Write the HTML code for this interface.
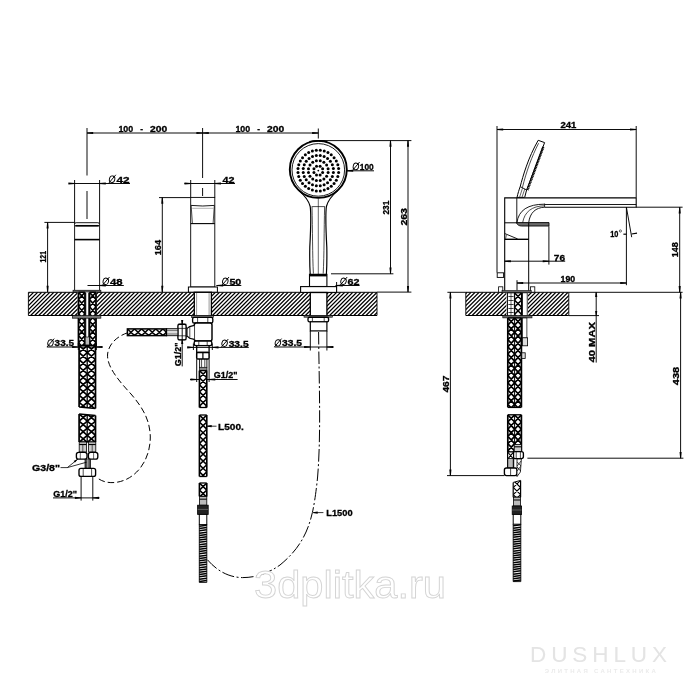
<!DOCTYPE html>
<html><head><meta charset="utf-8"><title>drawing</title>
<style>
html,body{margin:0;padding:0;background:#fff;}
body{width:700px;height:700px;overflow:hidden;font-family:"Liberation Sans",sans-serif;}
svg{display:block;font-family:"Liberation Sans",sans-serif;will-change:transform;filter:grayscale(1);}
</style></head><body>
<svg width="700" height="700" viewBox="0 0 700 700">
<rect x="0" y="0" width="700" height="700" fill="#fff"/>
<defs>
<pattern id="hat" width="10" height="2.72" patternUnits="userSpaceOnUse" patternTransform="rotate(-45)">
<rect x="0" y="0" width="10" height="1.05" fill="#000"/>
</pattern>
</defs>

<clipPath id="c1"><rect x="28.4" y="292.3" width="348.6" height="23.19999999999999"/></clipPath>
<g clip-path="url(#c1)">
<path d="M2.36,315.50L25.56,292.30M6.40,315.50L29.60,292.30M10.44,315.50L33.64,292.30M14.48,315.50L37.68,292.30M18.52,315.50L41.72,292.30M22.56,315.50L45.76,292.30M26.60,315.50L49.80,292.30M30.64,315.50L53.84,292.30M34.68,315.50L57.88,292.30M38.72,315.50L61.92,292.30M42.76,315.50L65.96,292.30M46.80,315.50L70.00,292.30M50.84,315.50L74.04,292.30M54.88,315.50L78.08,292.30M58.92,315.50L82.12,292.30M62.96,315.50L86.16,292.30M67.00,315.50L90.20,292.30M71.04,315.50L94.24,292.30M75.08,315.50L98.28,292.30M79.12,315.50L102.32,292.30M83.16,315.50L106.36,292.30M87.20,315.50L110.40,292.30M91.24,315.50L114.44,292.30M95.28,315.50L118.48,292.30M99.32,315.50L122.52,292.30M103.36,315.50L126.56,292.30M107.40,315.50L130.60,292.30M111.44,315.50L134.64,292.30M115.48,315.50L138.68,292.30M119.52,315.50L142.72,292.30M123.56,315.50L146.76,292.30M127.60,315.50L150.80,292.30M131.64,315.50L154.84,292.30M135.68,315.50L158.88,292.30M139.72,315.50L162.92,292.30M143.76,315.50L166.96,292.30M147.80,315.50L171.00,292.30M151.84,315.50L175.04,292.30M155.88,315.50L179.08,292.30M159.92,315.50L183.12,292.30M163.96,315.50L187.16,292.30M168.00,315.50L191.20,292.30M172.04,315.50L195.24,292.30M176.08,315.50L199.28,292.30M180.12,315.50L203.32,292.30M184.16,315.50L207.36,292.30M188.20,315.50L211.40,292.30M192.24,315.50L215.44,292.30M196.28,315.50L219.48,292.30M200.32,315.50L223.52,292.30M204.36,315.50L227.56,292.30M208.40,315.50L231.60,292.30M212.44,315.50L235.64,292.30M216.48,315.50L239.68,292.30M220.52,315.50L243.72,292.30M224.56,315.50L247.76,292.30M228.60,315.50L251.80,292.30M232.64,315.50L255.84,292.30M236.68,315.50L259.88,292.30M240.72,315.50L263.92,292.30M244.76,315.50L267.96,292.30M248.80,315.50L272.00,292.30M252.84,315.50L276.04,292.30M256.88,315.50L280.08,292.30M260.92,315.50L284.12,292.30M264.96,315.50L288.16,292.30M269.00,315.50L292.20,292.30M273.04,315.50L296.24,292.30M277.08,315.50L300.28,292.30M281.12,315.50L304.32,292.30M285.16,315.50L308.36,292.30M289.20,315.50L312.40,292.30M293.24,315.50L316.44,292.30M297.28,315.50L320.48,292.30M301.32,315.50L324.52,292.30M305.36,315.50L328.56,292.30M309.40,315.50L332.60,292.30M313.44,315.50L336.64,292.30M317.48,315.50L340.68,292.30M321.52,315.50L344.72,292.30M325.56,315.50L348.76,292.30M329.60,315.50L352.80,292.30M333.64,315.50L356.84,292.30M337.68,315.50L360.88,292.30M341.72,315.50L364.92,292.30M345.76,315.50L368.96,292.30M349.80,315.50L373.00,292.30M353.84,315.50L377.04,292.30M357.88,315.50L381.08,292.30M361.92,315.50L385.12,292.30M365.96,315.50L389.16,292.30M370.00,315.50L393.20,292.30M374.04,315.50L397.24,292.30M378.08,315.50L401.28,292.30" fill="none" stroke="#000" stroke-width="1.22" />
</g>
<line x1="28.40" y1="292.30" x2="377.00" y2="292.30" stroke="#000" stroke-width="1.0" />
<line x1="28.40" y1="315.50" x2="377.00" y2="315.50" stroke="#000" stroke-width="1.2" />
<line x1="28.40" y1="292.30" x2="28.40" y2="315.50" stroke="#000" stroke-width="0.9" />
<line x1="377.00" y1="292.30" x2="377.00" y2="315.50" stroke="#000" stroke-width="0.9" />
<clipPath id="c2"><rect x="465.8" y="292.3" width="102.99999999999994" height="23.19999999999999"/></clipPath>
<g clip-path="url(#c2)">
<path d="M439.76,315.50L462.96,292.30M443.80,315.50L467.00,292.30M447.84,315.50L471.04,292.30M451.88,315.50L475.08,292.30M455.92,315.50L479.12,292.30M459.96,315.50L483.16,292.30M464.00,315.50L487.20,292.30M468.04,315.50L491.24,292.30M472.08,315.50L495.28,292.30M476.12,315.50L499.32,292.30M480.16,315.50L503.36,292.30M484.20,315.50L507.40,292.30M488.24,315.50L511.44,292.30M492.28,315.50L515.48,292.30M496.32,315.50L519.52,292.30M500.36,315.50L523.56,292.30M504.40,315.50L527.60,292.30M508.44,315.50L531.64,292.30M512.48,315.50L535.68,292.30M516.52,315.50L539.72,292.30M520.56,315.50L543.76,292.30M524.60,315.50L547.80,292.30M528.64,315.50L551.84,292.30M532.68,315.50L555.88,292.30M536.72,315.50L559.92,292.30M540.76,315.50L563.96,292.30M544.80,315.50L568.00,292.30M548.84,315.50L572.04,292.30M552.88,315.50L576.08,292.30M556.92,315.50L580.12,292.30M560.96,315.50L584.16,292.30M565.00,315.50L588.20,292.30M569.04,315.50L592.24,292.30" fill="none" stroke="#000" stroke-width="1.22" />
</g>
<line x1="465.80" y1="292.30" x2="568.80" y2="292.30" stroke="#000" stroke-width="1.0" />
<line x1="465.80" y1="315.50" x2="568.80" y2="315.50" stroke="#000" stroke-width="1.2" />
<line x1="465.80" y1="292.30" x2="465.80" y2="315.50" stroke="#000" stroke-width="0.9" />
<line x1="568.80" y1="292.30" x2="568.80" y2="315.50" stroke="#000" stroke-width="0.9" />
<line x1="87.00" y1="133.00" x2="318.30" y2="133.00" stroke="#000" stroke-width="0.95" />
<polygon points="87.00,132.55 87.00,133.45 93.20,134.05 93.20,131.95" fill="#000"/>
<polygon points="202.60,132.55 202.60,133.45 196.40,134.05 196.40,131.95" fill="#000"/>
<polygon points="202.60,132.55 202.60,133.45 208.80,134.05 208.80,131.95" fill="#000"/>
<polygon points="318.30,132.55 318.30,133.45 312.10,134.05 312.10,131.95" fill="#000"/>
<line x1="87.00" y1="128.00" x2="87.00" y2="175.50" stroke="#000" stroke-width="0.95" />
<line x1="87.00" y1="191.00" x2="87.00" y2="219.00" stroke="#000" stroke-width="0.95" />
<line x1="202.60" y1="128.00" x2="202.60" y2="178.00" stroke="#000" stroke-width="0.95" />
<line x1="202.60" y1="188.00" x2="202.60" y2="196.00" stroke="#000" stroke-width="0.95" />
<line x1="318.30" y1="128.50" x2="318.30" y2="138.50" stroke="#000" stroke-width="0.95" />
<text x="118.40" y="131.70" font-size="9.2" font-weight="bold" fill="#000" stroke="#000" stroke-width="0.3" textLength="14.80" lengthAdjust="spacingAndGlyphs">100</text>
<text x="140.30" y="131.70" font-size="9.2" font-weight="bold" fill="#000" stroke="#000" stroke-width="0.3" textLength="2.80" lengthAdjust="spacingAndGlyphs">-</text>
<text x="150.10" y="131.70" font-size="9.2" font-weight="bold" fill="#000" stroke="#000" stroke-width="0.3" textLength="17.20" lengthAdjust="spacingAndGlyphs">200</text>
<text x="235.40" y="131.70" font-size="9.2" font-weight="bold" fill="#000" stroke="#000" stroke-width="0.3" textLength="14.80" lengthAdjust="spacingAndGlyphs">100</text>
<text x="257.30" y="131.70" font-size="9.2" font-weight="bold" fill="#000" stroke="#000" stroke-width="0.3" textLength="2.80" lengthAdjust="spacingAndGlyphs">-</text>
<text x="267.10" y="131.70" font-size="9.2" font-weight="bold" fill="#000" stroke="#000" stroke-width="0.3" textLength="17.20" lengthAdjust="spacingAndGlyphs">200</text>
<line x1="74.60" y1="180.00" x2="74.60" y2="223.00" stroke="#000" stroke-width="0.95" />
<line x1="99.60" y1="180.00" x2="99.60" y2="223.00" stroke="#000" stroke-width="0.95" />
<line x1="68.80" y1="183.50" x2="130.00" y2="183.50" stroke="#000" stroke-width="0.95" />
<polygon points="74.60,183.05 74.60,183.95 68.40,184.55 68.40,182.45" fill="#000"/>
<polygon points="99.60,183.05 99.60,183.95 105.80,184.55 105.80,182.45" fill="#000"/>
<ellipse cx="112.10" cy="179.20" rx="2.70" ry="3.30" fill="none" stroke="#000" stroke-width="0.95" transform="rotate(14 112.10 179.20)"/>
<line x1="108.50" y1="183.50" x2="115.80" y2="174.80" stroke="#000" stroke-width="0.95" />
<text x="116.40" y="182.60" font-size="9.2" font-weight="bold" fill="#000" stroke="#000" stroke-width="0.3" textLength="13.10" lengthAdjust="spacingAndGlyphs">42</text>
<line x1="74.60" y1="223.00" x2="74.60" y2="290.30" stroke="#000" stroke-width="0.9" />
<line x1="99.60" y1="223.00" x2="99.60" y2="290.30" stroke="#000" stroke-width="0.9" />
<rect x="74.5" y="222.7" width="25.0" height="3.4" rx="1.6" fill="#fff" stroke="#000" stroke-width="0.9"/>
<line x1="75.40" y1="225.60" x2="98.80" y2="225.60" stroke="#000" stroke-width="1.3" />
<line x1="74.60" y1="239.60" x2="99.60" y2="239.60" stroke="#000" stroke-width="1.6" />
<rect x="73.00" y="290.20" width="27.90" height="2.10" fill="#555" stroke="#000" stroke-width="0.6" />
<line x1="44.40" y1="222.40" x2="74.60" y2="222.40" stroke="#000" stroke-width="0.95" />
<line x1="47.60" y1="222.40" x2="47.60" y2="292.00" stroke="#000" stroke-width="0.95" />
<polygon points="47.15,222.40 48.05,222.40 48.65,228.60 46.55,228.60" fill="#000"/>
<polygon points="47.15,292.00 48.05,292.00 48.65,285.80 46.55,285.80" fill="#000"/>
<text transform="translate(46.40,262.60) rotate(-90)" x="0" y="0" font-size="9.2" font-weight="bold" stroke="#000" stroke-width="0.3" textLength="11.60" lengthAdjust="spacingAndGlyphs">121</text>
<line x1="87.50" y1="285.50" x2="123.80" y2="285.50" stroke="#000" stroke-width="0.95" />
<polygon points="99.60,285.05 99.60,285.95 105.80,286.55 105.80,284.45" fill="#000"/>
<ellipse cx="105.80" cy="281.35" rx="2.70" ry="3.25" fill="none" stroke="#000" stroke-width="0.95" transform="rotate(14 105.80 281.35)"/>
<line x1="102.20" y1="285.60" x2="109.50" y2="277.00" stroke="#000" stroke-width="0.95" />
<text x="110.00" y="284.70" font-size="9.2" font-weight="bold" fill="#000" stroke="#000" stroke-width="0.3" textLength="12.60" lengthAdjust="spacingAndGlyphs">48</text>
<rect x="77.6" y="292.3" width="19.4" height="24" fill="#fff"/>
<clipPath id="c3"><polygon points="78.50,292.30 85.00,292.30 85.00,346.00 78.50,346.00"/></clipPath>
<g clip-path="url(#c3)">
<rect x="78.50" y="285.10" width="6.50" height="68.10" fill="#fff"/>
<path d="M78.50,285.10L85.00,292.30M85.00,285.10L78.50,292.30M78.50,292.30L85.00,299.50M85.00,292.30L78.50,299.50M78.50,299.50L85.00,306.70M85.00,299.50L78.50,306.70M78.50,306.70L85.00,313.90M85.00,306.70L78.50,313.90M78.50,313.90L85.00,321.10M85.00,313.90L78.50,321.10M78.50,321.10L85.00,328.30M85.00,321.10L78.50,328.30M78.50,328.30L85.00,335.50M85.00,328.30L78.50,335.50M78.50,335.50L85.00,342.70M85.00,335.50L78.50,342.70M78.50,342.70L85.00,349.90M85.00,342.70L78.50,349.90M78.50,349.90L85.00,357.10M85.00,349.90L78.50,357.10M78.50,357.10L85.00,364.30M85.00,357.10L78.50,364.30" fill="none" stroke="#000" stroke-width="1.6" />
</g>
<line x1="78.50" y1="292.30" x2="78.50" y2="346.00" stroke="#000" stroke-width="1.8" />
<line x1="85.00" y1="292.30" x2="85.00" y2="346.00" stroke="#000" stroke-width="1.8" />
<line x1="78.50" y1="292.30" x2="85.00" y2="292.30" stroke="#000" stroke-width="1.4400000000000002" />
<line x1="78.50" y1="346.00" x2="85.00" y2="346.00" stroke="#000" stroke-width="1.4400000000000002" />
<clipPath id="c4"><polygon points="89.50,292.30 96.00,292.30 96.00,346.00 89.50,346.00"/></clipPath>
<g clip-path="url(#c4)">
<rect x="89.50" y="285.10" width="6.50" height="68.10" fill="#fff"/>
<path d="M89.50,285.10L96.00,292.30M96.00,285.10L89.50,292.30M89.50,292.30L96.00,299.50M96.00,292.30L89.50,299.50M89.50,299.50L96.00,306.70M96.00,299.50L89.50,306.70M89.50,306.70L96.00,313.90M96.00,306.70L89.50,313.90M89.50,313.90L96.00,321.10M96.00,313.90L89.50,321.10M89.50,321.10L96.00,328.30M96.00,321.10L89.50,328.30M89.50,328.30L96.00,335.50M96.00,328.30L89.50,335.50M89.50,335.50L96.00,342.70M96.00,335.50L89.50,342.70M89.50,342.70L96.00,349.90M96.00,342.70L89.50,349.90M89.50,349.90L96.00,357.10M96.00,349.90L89.50,357.10M89.50,357.10L96.00,364.30M96.00,357.10L89.50,364.30" fill="none" stroke="#000" stroke-width="1.6" />
</g>
<line x1="89.50" y1="292.30" x2="89.50" y2="346.00" stroke="#000" stroke-width="1.8" />
<line x1="96.00" y1="292.30" x2="96.00" y2="346.00" stroke="#000" stroke-width="1.8" />
<line x1="89.50" y1="292.30" x2="96.00" y2="292.30" stroke="#000" stroke-width="1.4400000000000002" />
<line x1="89.50" y1="346.00" x2="96.00" y2="346.00" stroke="#000" stroke-width="1.4400000000000002" />
<line x1="85.90" y1="293.00" x2="85.90" y2="337.00" stroke="#000" stroke-width="0.6" />
<line x1="88.60" y1="293.00" x2="88.60" y2="337.00" stroke="#000" stroke-width="0.6" />
<rect x="85.20" y="337.00" width="4.10" height="8.00" fill="#bbb" stroke="#000" stroke-width="0.6" />
<rect x="72.30" y="315.50" width="28.60" height="2.70" fill="#777" stroke="#000" stroke-width="0.6" />
<clipPath id="c5"><polygon points="79.10,345.50 95.50,345.50 95.50,408.50 79.10,407.00"/></clipPath>
<g clip-path="url(#c5)">
<rect x="79.10" y="338.40" width="16.40" height="77.20" fill="#fff"/>
<path d="M79.10,338.40L87.30,345.50M87.30,338.40L79.10,345.50M79.10,345.50L87.30,352.60M87.30,345.50L79.10,352.60M79.10,352.60L87.30,359.70M87.30,352.60L79.10,359.70M79.10,359.70L87.30,366.80M87.30,359.70L79.10,366.80M79.10,366.80L87.30,373.90M87.30,366.80L79.10,373.90M79.10,373.90L87.30,381.00M87.30,373.90L79.10,381.00M79.10,381.00L87.30,388.10M87.30,381.00L79.10,388.10M79.10,388.10L87.30,395.20M87.30,388.10L79.10,395.20M79.10,395.20L87.30,402.30M87.30,395.20L79.10,402.30M79.10,402.30L87.30,409.40M87.30,402.30L79.10,409.40M79.10,409.40L87.30,416.50M87.30,409.40L79.10,416.50M79.10,416.50L87.30,423.60M87.30,416.50L79.10,423.60M87.30,338.40L95.50,345.50M95.50,338.40L87.30,345.50M87.30,345.50L95.50,352.60M95.50,345.50L87.30,352.60M87.30,352.60L95.50,359.70M95.50,352.60L87.30,359.70M87.30,359.70L95.50,366.80M95.50,359.70L87.30,366.80M87.30,366.80L95.50,373.90M95.50,366.80L87.30,373.90M87.30,373.90L95.50,381.00M95.50,373.90L87.30,381.00M87.30,381.00L95.50,388.10M95.50,381.00L87.30,388.10M87.30,388.10L95.50,395.20M95.50,388.10L87.30,395.20M87.30,395.20L95.50,402.30M95.50,395.20L87.30,402.30M87.30,402.30L95.50,409.40M95.50,402.30L87.30,409.40M87.30,409.40L95.50,416.50M95.50,409.40L87.30,416.50M87.30,416.50L95.50,423.60M95.50,416.50L87.30,423.60" fill="none" stroke="#000" stroke-width="1.7" />
</g>
<line x1="79.10" y1="345.50" x2="79.10" y2="407.00" stroke="#000" stroke-width="1.7" />
<line x1="95.50" y1="345.50" x2="95.50" y2="408.50" stroke="#000" stroke-width="1.7" />
<line x1="79.10" y1="345.50" x2="95.50" y2="345.50" stroke="#000" stroke-width="1.36" />
<line x1="79.10" y1="407.00" x2="95.50" y2="408.50" stroke="#000" stroke-width="1.36" />
<line x1="87.20" y1="346.00" x2="87.20" y2="407.60" stroke="#000" stroke-width="1.3" />
<clipPath id="c6"><polygon points="79.10,414.00 95.50,415.50 95.50,442.00 79.10,442.00"/></clipPath>
<g clip-path="url(#c6)">
<rect x="79.10" y="406.90" width="16.40" height="42.20" fill="#fff"/>
<path d="M79.10,406.90L87.30,414.00M87.30,406.90L79.10,414.00M79.10,414.00L87.30,421.10M87.30,414.00L79.10,421.10M79.10,421.10L87.30,428.20M87.30,421.10L79.10,428.20M79.10,428.20L87.30,435.30M87.30,428.20L79.10,435.30M79.10,435.30L87.30,442.40M87.30,435.30L79.10,442.40M79.10,442.40L87.30,449.50M87.30,442.40L79.10,449.50M79.10,449.50L87.30,456.60M87.30,449.50L79.10,456.60M87.30,406.90L95.50,414.00M95.50,406.90L87.30,414.00M87.30,414.00L95.50,421.10M95.50,414.00L87.30,421.10M87.30,421.10L95.50,428.20M95.50,421.10L87.30,428.20M87.30,428.20L95.50,435.30M95.50,428.20L87.30,435.30M87.30,435.30L95.50,442.40M95.50,435.30L87.30,442.40M87.30,442.40L95.50,449.50M95.50,442.40L87.30,449.50M87.30,449.50L95.50,456.60M95.50,449.50L87.30,456.60" fill="none" stroke="#000" stroke-width="1.7" />
</g>
<line x1="79.10" y1="414.00" x2="79.10" y2="442.00" stroke="#000" stroke-width="1.7" />
<line x1="95.50" y1="415.50" x2="95.50" y2="442.00" stroke="#000" stroke-width="1.7" />
<line x1="79.10" y1="414.00" x2="95.50" y2="415.50" stroke="#000" stroke-width="1.36" />
<line x1="79.10" y1="442.00" x2="95.50" y2="442.00" stroke="#000" stroke-width="1.36" />
<line x1="87.20" y1="415.00" x2="87.20" y2="442.00" stroke="#000" stroke-width="1.3" />
<line x1="47.00" y1="347.00" x2="102.50" y2="347.00" stroke="#000" stroke-width="0.95" />
<polygon points="78.30,346.55 78.30,347.45 72.10,348.05 72.10,345.95" fill="#000"/>
<polygon points="96.30,346.55 96.30,347.45 102.50,348.05 102.50,345.95" fill="#000"/>
<line x1="78.30" y1="343.00" x2="78.30" y2="350.00" stroke="#000" stroke-width="0.95" />
<line x1="96.30" y1="343.00" x2="96.30" y2="350.00" stroke="#000" stroke-width="0.95" />
<ellipse cx="50.50" cy="342.90" rx="2.70" ry="3.20" fill="none" stroke="#000" stroke-width="0.95" transform="rotate(14 50.50 342.90)"/>
<line x1="46.90" y1="347.10" x2="54.20" y2="338.60" stroke="#000" stroke-width="0.95" />
<text x="54.60" y="346.20" font-size="9.2" font-weight="bold" fill="#000" stroke="#000" stroke-width="0.3" textLength="19.40" lengthAdjust="spacingAndGlyphs">33.5</text>
<rect x="79.20" y="442.00" width="7.20" height="10.00" fill="#ccc" stroke="#000" stroke-width="0.8" />
<rect x="88.60" y="442.00" width="7.20" height="10.00" fill="#ccc" stroke="#000" stroke-width="0.8" />
<line x1="79.20" y1="444.50" x2="86.40" y2="444.50" stroke="#000" stroke-width="1.2" />
<line x1="88.60" y1="444.50" x2="95.80" y2="444.50" stroke="#000" stroke-width="1.2" />
<line x1="82.80" y1="445.00" x2="82.80" y2="452.00" stroke="#000" stroke-width="0.6" />
<line x1="92.20" y1="445.00" x2="92.20" y2="452.00" stroke="#000" stroke-width="0.6" />
<rect x="76.4" y="452.4" width="10.6" height="6.8" rx="2.2" fill="#fff" stroke="#000" stroke-width="1.35"/>
<rect x="88.4" y="452.4" width="9.4" height="6.8" rx="2.2" fill="#fff" stroke="#000" stroke-width="1.35"/>
<line x1="80.30" y1="452.50" x2="80.30" y2="459.00" stroke="#000" stroke-width="0.6" />
<line x1="93.60" y1="452.50" x2="93.60" y2="459.00" stroke="#000" stroke-width="0.6" />
<rect x="85.00" y="459.20" width="5.60" height="9.00" fill="#555" stroke="#000" stroke-width="0.7" />
<line x1="87.80" y1="459.20" x2="87.80" y2="468.20" stroke="#fff" stroke-width="0.6" />
<rect x="79.0" y="468.4" width="16.6" height="8" rx="2" fill="#fff" stroke="#000" stroke-width="1.35"/>
<line x1="83.20" y1="468.60" x2="83.20" y2="476.20" stroke="#000" stroke-width="0.7" />
<line x1="91.60" y1="468.60" x2="91.60" y2="476.20" stroke="#000" stroke-width="0.7" />
<line x1="81.10" y1="476.60" x2="81.10" y2="500.60" stroke="#000" stroke-width="0.95" />
<line x1="92.80" y1="476.60" x2="92.80" y2="500.60" stroke="#000" stroke-width="0.95" />
<line x1="53.00" y1="497.90" x2="99.60" y2="497.90" stroke="#000" stroke-width="0.95" />
<polygon points="81.10,497.45 81.10,498.35 74.90,498.95 74.90,496.85" fill="#000"/>
<polygon points="92.80,497.45 92.80,498.35 99.00,498.95 99.00,496.85" fill="#000"/>
<text x="53.20" y="496.80" font-size="9.2" font-weight="bold" fill="#000" stroke="#000" stroke-width="0.3" textLength="23.80" lengthAdjust="spacingAndGlyphs">G1/2"</text>
<text x="32.00" y="470.80" font-size="9.2" font-weight="bold" fill="#000" stroke="#000" stroke-width="0.3" textLength="28.00" lengthAdjust="spacingAndGlyphs">G3/8"</text>
<path d="M60.5,467.6 L67.3,467.6 L77.8,459.2 M67.3,467.6 L86.6,462.2" fill="none" stroke="#000" stroke-width="0.8" />
<polygon points="77.80,458.75 77.80,459.65 77.70,459.30 77.70,459.10" fill="#000"/>
<polygon points="78.2,458.8 73.6,461.0 75.0,462.6" fill="#000"/>
<path d="M127.5,332.8 C118,336 109,343 107.6,354 C106.5,366 118,380 131,394 C143,408 150,420 150.3,437 C150.3,456 141,472 127,479 C117,484 105,484 97.5,478" fill="none" stroke="#000" stroke-width="1.0" stroke-dasharray="6.5,3"/>
<line x1="190.70" y1="180.00" x2="190.70" y2="197.40" stroke="#000" stroke-width="0.95" />
<line x1="214.80" y1="180.00" x2="214.80" y2="197.40" stroke="#000" stroke-width="0.95" />
<line x1="184.40" y1="183.50" x2="235.00" y2="183.50" stroke="#000" stroke-width="0.95" />
<polygon points="190.70,183.05 190.70,183.95 184.50,184.55 184.50,182.45" fill="#000"/>
<polygon points="214.80,183.05 214.80,183.95 221.00,184.55 221.00,182.45" fill="#000"/>
<text x="222.50" y="182.60" font-size="9.2" font-weight="bold" fill="#000" stroke="#000" stroke-width="0.3" textLength="12.00" lengthAdjust="spacingAndGlyphs">42</text>
<rect x="190.70" y="197.40" width="24.10" height="89.60" fill="none" stroke="#000" stroke-width="0.9" />
<path d="M190.9,205.4 Q202.7,206.6 214.6,205.4" fill="none" stroke="#000" stroke-width="0.9" />
<line x1="190.70" y1="223.60" x2="214.80" y2="223.60" stroke="#000" stroke-width="1.1" />
<path d="M191.2,206 L192.4,223.4 M214.3,206 L213.1,223.4" fill="none" stroke="#000" stroke-width="0.7" />
<path d="M192.2,208.3 L213.3,208.3" fill="none" stroke="#666" stroke-width="0.5" />
<rect x="188.40" y="287.00" width="29.00" height="5.20" fill="#fff" stroke="#000" stroke-width="1.0" />
<line x1="159.00" y1="197.60" x2="190.70" y2="197.60" stroke="#000" stroke-width="0.95" />
<line x1="162.30" y1="197.60" x2="162.30" y2="292.00" stroke="#000" stroke-width="0.95" />
<polygon points="161.85,197.60 162.75,197.60 163.35,203.80 161.25,203.80" fill="#000"/>
<polygon points="161.85,292.00 162.75,292.00 163.35,285.80 161.25,285.80" fill="#000"/>
<text transform="translate(161.20,255.20) rotate(-90)" x="0" y="0" font-size="9.2" font-weight="bold" stroke="#000" stroke-width="0.3" textLength="15.20" lengthAdjust="spacingAndGlyphs">164</text>
<line x1="216.30" y1="285.50" x2="241.30" y2="285.50" stroke="#000" stroke-width="0.95" />
<polygon points="217.00,285.05 217.00,285.95 223.20,286.55 223.20,284.45" fill="#000"/>
<ellipse cx="225.30" cy="281.35" rx="2.70" ry="3.25" fill="none" stroke="#000" stroke-width="0.95" transform="rotate(14 225.30 281.35)"/>
<line x1="221.70" y1="285.60" x2="229.00" y2="277.00" stroke="#000" stroke-width="0.95" />
<text x="229.40" y="284.70" font-size="9.2" font-weight="bold" fill="#000" stroke="#000" stroke-width="0.3" textLength="11.90" lengthAdjust="spacingAndGlyphs">50</text>
<rect x="194.30" y="292.30" width="17.10" height="23.70" fill="#fff" stroke="#000" stroke-width="1.3" />
<line x1="196.60" y1="293.00" x2="196.60" y2="316.00" stroke="#555" stroke-width="0.6" />
<line x1="209.10" y1="293.00" x2="209.10" y2="316.00" stroke="#555" stroke-width="0.6" />
<rect x="191.60" y="315.60" width="21.80" height="2.00" fill="#777" stroke="#000" stroke-width="0.6" />
<rect x="192.6" y="317.4" width="20.2" height="5.6" rx="1.6" fill="#fff" stroke="#000" stroke-width="1.35"/>
<line x1="197.60" y1="317.60" x2="197.60" y2="323.00" stroke="#000" stroke-width="0.7" />
<line x1="207.80" y1="317.60" x2="207.80" y2="323.00" stroke="#000" stroke-width="0.7" />
<rect x="194.3" y="323" width="17.7" height="18" rx="2" fill="#fff" stroke="#000" stroke-width="1.45"/>
<rect x="194.2" y="341" width="17.6" height="4.6" rx="1.5" fill="#fff" stroke="#000" stroke-width="1.35"/>
<line x1="198.80" y1="341.20" x2="198.80" y2="345.40" stroke="#000" stroke-width="0.7" />
<line x1="207.20" y1="341.20" x2="207.20" y2="345.40" stroke="#000" stroke-width="0.7" />
<rect x="196.70" y="345.60" width="12.40" height="6.80" fill="#fff" stroke="#000" stroke-width="1.3" />
<rect x="196.7" y="352.4" width="12.4" height="6.6" rx="1" fill="#fff" stroke="#000" stroke-width="1.5"/>
<line x1="202.90" y1="352.60" x2="202.90" y2="359.00" stroke="#000" stroke-width="1.2" />
<line x1="199.60" y1="359.00" x2="199.60" y2="367.40" stroke="#000" stroke-width="0.9" />
<line x1="206.90" y1="359.00" x2="206.90" y2="367.40" stroke="#000" stroke-width="0.9" />
<line x1="201.60" y1="359.00" x2="201.60" y2="367.40" stroke="#000" stroke-width="0.7" />
<line x1="204.80" y1="359.00" x2="204.80" y2="367.40" stroke="#000" stroke-width="0.7" />
<rect x="199.40" y="367.30" width="7.60" height="3.30" fill="#888" stroke="#000" stroke-width="0.7" />
<path d="M194.3,325.4 L189.6,326.6 L187.0,328.6 L187.0,336.0 L189.6,338.2 L194.3,339.4" fill="#fff" stroke="#000" stroke-width="1.1" />
<line x1="189.80" y1="326.80" x2="189.80" y2="338.00" stroke="#000" stroke-width="0.7" />
<rect x="177.9" y="324.2" width="8.2" height="15.6" rx="1.6" fill="#fff" stroke="#000" stroke-width="1.35"/>
<line x1="178.00" y1="328.40" x2="186.00" y2="328.40" stroke="#000" stroke-width="0.7" />
<line x1="178.00" y1="335.80" x2="186.00" y2="335.80" stroke="#000" stroke-width="0.7" />
<line x1="186.10" y1="327.60" x2="187.00" y2="327.60" stroke="#000" stroke-width="0.8" />
<line x1="186.10" y1="336.60" x2="187.00" y2="336.60" stroke="#000" stroke-width="0.8" />
<rect x="166.40" y="328.70" width="11.50" height="7.00" fill="#ddd" stroke="#000" stroke-width="0.9" />
<line x1="166.40" y1="330.40" x2="177.90" y2="330.40" stroke="#000" stroke-width="0.5" />
<line x1="166.40" y1="334.00" x2="177.90" y2="334.00" stroke="#000" stroke-width="0.5" />
<clipPath id="c7"><rect x="127.40" y="328.90" width="39.00" height="6.70"/></clipPath>
<g clip-path="url(#c7)">
<path d="M120.30,328.90L127.40,335.60M120.30,335.60L127.40,328.90M127.40,328.90L134.50,335.60M127.40,335.60L134.50,328.90M134.50,328.90L141.60,335.60M134.50,335.60L141.60,328.90M141.60,328.90L148.70,335.60M141.60,335.60L148.70,328.90M148.70,328.90L155.80,335.60M148.70,335.60L155.80,328.90M155.80,328.90L162.90,335.60M155.80,335.60L162.90,328.90M162.90,328.90L170.00,335.60M162.90,335.60L170.00,328.90M170.00,328.90L177.10,335.60M170.00,335.60L177.10,328.90" fill="none" stroke="#000" stroke-width="1.45" />
</g>
<rect x="127.40" y="328.90" width="39.00" height="6.70" fill="none" stroke="#000" stroke-width="1.5" />
<line x1="182.20" y1="320.00" x2="182.20" y2="366.40" stroke="#000" stroke-width="0.95" />
<polygon points="181.75,324.20 182.65,324.20 183.25,320.00 181.15,320.00" fill="#000"/>
<polygon points="181.75,339.80 182.65,339.80 183.25,344.00 181.15,344.00" fill="#000"/>
<line x1="178.00" y1="324.20" x2="186.40" y2="324.20" stroke="#000" stroke-width="0.6" />
<line x1="178.00" y1="339.80" x2="186.40" y2="339.80" stroke="#000" stroke-width="0.6" />
<text transform="translate(181.00,366.30) rotate(-90)" x="0" y="0" font-size="9.2" font-weight="bold" stroke="#000" stroke-width="0.3" textLength="23.70" lengthAdjust="spacingAndGlyphs">G1/2"</text>
<line x1="187.60" y1="347.40" x2="248.80" y2="347.40" stroke="#000" stroke-width="0.95" />
<polygon points="193.40,346.95 193.40,347.85 187.20,348.45 187.20,346.35" fill="#000"/>
<polygon points="212.30,346.95 212.30,347.85 218.50,348.45 218.50,346.35" fill="#000"/>
<line x1="193.40" y1="343.50" x2="193.40" y2="350.00" stroke="#000" stroke-width="0.95" />
<line x1="212.30" y1="343.50" x2="212.30" y2="350.00" stroke="#000" stroke-width="0.95" />
<ellipse cx="224.60" cy="343.30" rx="2.70" ry="3.20" fill="none" stroke="#000" stroke-width="0.95" transform="rotate(14 224.60 343.30)"/>
<line x1="221.00" y1="347.50" x2="228.30" y2="339.00" stroke="#000" stroke-width="0.95" />
<text x="228.70" y="346.60" font-size="9.2" font-weight="bold" fill="#000" stroke="#000" stroke-width="0.3" textLength="19.90" lengthAdjust="spacingAndGlyphs">33.5</text>
<line x1="196.70" y1="359.20" x2="196.70" y2="382.00" stroke="#000" stroke-width="0.95" />
<line x1="209.10" y1="359.20" x2="209.10" y2="382.00" stroke="#000" stroke-width="0.95" />
<line x1="190.00" y1="379.50" x2="237.60" y2="379.50" stroke="#000" stroke-width="0.95" />
<polygon points="196.70,379.05 196.70,379.95 190.50,380.55 190.50,378.45" fill="#000"/>
<polygon points="209.10,379.05 209.10,379.95 215.30,380.55 215.30,378.45" fill="#000"/>
<text x="213.80" y="378.30" font-size="9.2" font-weight="bold" fill="#000" stroke="#000" stroke-width="0.3" textLength="23.70" lengthAdjust="spacingAndGlyphs">G1/2"</text>
<clipPath id="c8"><polygon points="199.40,370.60 206.80,370.60 206.80,407.50 199.40,407.50"/></clipPath>
<g clip-path="url(#c8)">
<rect x="199.40" y="363.50" width="7.40" height="51.10" fill="#fff"/>
<path d="M199.40,363.50L206.80,370.60M206.80,363.50L199.40,370.60M199.40,370.60L206.80,377.70M206.80,370.60L199.40,377.70M199.40,377.70L206.80,384.80M206.80,377.70L199.40,384.80M199.40,384.80L206.80,391.90M206.80,384.80L199.40,391.90M199.40,391.90L206.80,399.00M206.80,391.90L199.40,399.00M199.40,399.00L206.80,406.10M206.80,399.00L199.40,406.10M199.40,406.10L206.80,413.20M206.80,406.10L199.40,413.20M199.40,413.20L206.80,420.30M206.80,413.20L199.40,420.30M199.40,420.30L206.80,427.40M206.80,420.30L199.40,427.40" fill="none" stroke="#000" stroke-width="1.55" />
</g>
<line x1="199.40" y1="370.60" x2="199.40" y2="407.50" stroke="#000" stroke-width="1.6" />
<line x1="206.80" y1="370.60" x2="206.80" y2="407.50" stroke="#000" stroke-width="1.6" />
<line x1="199.40" y1="370.60" x2="206.80" y2="370.60" stroke="#000" stroke-width="1.2800000000000002" />
<line x1="199.40" y1="407.50" x2="206.80" y2="407.50" stroke="#000" stroke-width="1.2800000000000002" />
<clipPath id="c9"><polygon points="199.40,415.00 206.80,415.00 206.80,476.50 199.40,476.50"/></clipPath>
<g clip-path="url(#c9)">
<rect x="199.40" y="407.90" width="7.40" height="75.70" fill="#fff"/>
<path d="M199.40,407.90L206.80,415.00M206.80,407.90L199.40,415.00M199.40,415.00L206.80,422.10M206.80,415.00L199.40,422.10M199.40,422.10L206.80,429.20M206.80,422.10L199.40,429.20M199.40,429.20L206.80,436.30M206.80,429.20L199.40,436.30M199.40,436.30L206.80,443.40M206.80,436.30L199.40,443.40M199.40,443.40L206.80,450.50M206.80,443.40L199.40,450.50M199.40,450.50L206.80,457.60M206.80,450.50L199.40,457.60M199.40,457.60L206.80,464.70M206.80,457.60L199.40,464.70M199.40,464.70L206.80,471.80M206.80,464.70L199.40,471.80M199.40,471.80L206.80,478.90M206.80,471.80L199.40,478.90M199.40,478.90L206.80,486.00M206.80,478.90L199.40,486.00M199.40,486.00L206.80,493.10M206.80,486.00L199.40,493.10" fill="none" stroke="#000" stroke-width="1.55" />
</g>
<line x1="199.40" y1="415.00" x2="199.40" y2="476.50" stroke="#000" stroke-width="1.6" />
<line x1="206.80" y1="415.00" x2="206.80" y2="476.50" stroke="#000" stroke-width="1.6" />
<line x1="199.40" y1="415.00" x2="206.80" y2="415.00" stroke="#000" stroke-width="1.2800000000000002" />
<line x1="199.40" y1="476.50" x2="206.80" y2="476.50" stroke="#000" stroke-width="1.2800000000000002" />
<clipPath id="c10"><polygon points="199.40,483.00 206.80,483.00 206.80,496.40 199.40,496.40"/></clipPath>
<g clip-path="url(#c10)">
<rect x="199.40" y="475.90" width="7.40" height="27.60" fill="#fff"/>
<path d="M199.40,475.90L206.80,483.00M206.80,475.90L199.40,483.00M199.40,483.00L206.80,490.10M206.80,483.00L199.40,490.10M199.40,490.10L206.80,497.20M206.80,490.10L199.40,497.20M199.40,497.20L206.80,504.30M206.80,497.20L199.40,504.30M199.40,504.30L206.80,511.40M206.80,504.30L199.40,511.40" fill="none" stroke="#000" stroke-width="1.55" />
</g>
<line x1="199.40" y1="483.00" x2="199.40" y2="496.40" stroke="#000" stroke-width="1.6" />
<line x1="206.80" y1="483.00" x2="206.80" y2="496.40" stroke="#000" stroke-width="1.6" />
<line x1="199.40" y1="483.00" x2="206.80" y2="483.00" stroke="#000" stroke-width="1.2800000000000002" />
<line x1="199.40" y1="496.40" x2="206.80" y2="496.40" stroke="#000" stroke-width="1.2800000000000002" />
<line x1="207.20" y1="426.20" x2="216.50" y2="426.20" stroke="#000" stroke-width="0.8" />
<polygon points="207.20,425.75 207.20,426.65 211.70,427.30 211.70,425.10" fill="#000"/>
<text x="218.00" y="429.60" font-size="9.2" font-weight="bold" fill="#000" stroke="#000" stroke-width="0.3" textLength="25.80" lengthAdjust="spacingAndGlyphs">L500.</text>
<rect x="199.60" y="496.40" width="7.20" height="8.80" fill="#bbb" stroke="#000" stroke-width="0.8" />
<line x1="199.60" y1="499.20" x2="206.80" y2="499.20" stroke="#000" stroke-width="1.0" />
<rect x="197.60" y="505.20" width="10.60" height="9.20" fill="#222" stroke="#000" stroke-width="0.8" />
<line x1="197.60" y1="509.40" x2="208.20" y2="509.40" stroke="#888" stroke-width="0.6" />
<rect x="199.30" y="514.40" width="7.50" height="10.20" fill="#fff" stroke="#000" stroke-width="1.0" />
<path d="M199.30,526.25L206.80,525.25M199.30,528.55L206.80,527.55M199.30,530.85L206.80,529.85M199.30,533.15L206.80,532.15M199.30,535.45L206.80,534.45M199.30,537.75L206.80,536.75M199.30,540.05L206.80,539.05M199.30,542.35L206.80,541.35M199.30,544.65L206.80,543.65M199.30,546.95L206.80,545.95M199.30,549.25L206.80,548.25M199.30,551.55L206.80,550.55M199.30,553.85L206.80,552.85M199.30,556.15L206.80,555.15M199.30,558.45L206.80,557.45M199.30,560.75L206.80,559.75M199.30,563.05L206.80,562.05M199.30,565.35L206.80,564.35M199.30,567.65L206.80,566.65M199.30,569.95L206.80,568.95M199.30,572.25L206.80,571.25M199.30,574.55L206.80,573.55M199.30,576.85L206.80,575.85M199.30,579.15L206.80,578.15M199.30,581.45L206.80,580.45" fill="none" stroke="#000" stroke-width="1.5" />
<line x1="199.30" y1="524.60" x2="199.30" y2="582.40" stroke="#000" stroke-width="0.9" />
<line x1="206.80" y1="524.60" x2="206.80" y2="582.40" stroke="#000" stroke-width="0.9" />
<line x1="199.30" y1="582.40" x2="206.80" y2="582.40" stroke="#000" stroke-width="0.9" />
<path d="M318.6,332 L318.8,350 C319.6,400 320.6,440 317.6,477 C315.6,497 313.6,507 312.4,512.5 C307,536 297,551 280,565 C268,573.5 256,577.6 242.5,577.6 C229,577.4 217,571 207.3,559.6" fill="none" stroke="#000" stroke-width="1.0" stroke-dasharray="12.5,2.5,2,2.5"/>
<line x1="313.20" y1="512.60" x2="323.40" y2="512.60" stroke="#000" stroke-width="0.8" />
<polygon points="313.20,512.15 313.20,513.05 317.70,513.70 317.70,511.50" fill="#000"/>
<text x="326.30" y="515.70" font-size="9.2" font-weight="bold" fill="#000" stroke="#000" stroke-width="0.3" textLength="26.30" lengthAdjust="spacingAndGlyphs">L1500</text>
<circle cx="318.3" cy="169.4" r="28.5" fill="#fff" stroke="#000" stroke-width="1.9"/>
<circle cx="318.3" cy="169.9" r="26.3" fill="none" stroke="#000" stroke-width="0.9"/>
<path d="M309.3,141.6 Q318.3,139.9 327.3,141.6" fill="none" stroke="#000" stroke-width="1.4" />
<circle cx="318.3" cy="170.6" r="0.9" fill="#000"/>
<circle cx="322.64" cy="172.40" r="1.5" fill="#000"/>
<circle cx="320.10" cy="174.94" r="1.5" fill="#000"/>
<circle cx="316.50" cy="174.94" r="1.5" fill="#000"/>
<circle cx="313.96" cy="172.40" r="1.5" fill="#000"/>
<circle cx="313.96" cy="168.80" r="1.5" fill="#000"/>
<circle cx="316.50" cy="166.26" r="1.5" fill="#000"/>
<circle cx="320.10" cy="166.26" r="1.5" fill="#000"/>
<circle cx="322.64" cy="168.80" r="1.5" fill="#000"/>
<circle cx="328.11" cy="172.55" r="1.5" fill="#000"/>
<circle cx="326.61" cy="176.16" r="1.5" fill="#000"/>
<circle cx="323.86" cy="178.91" r="1.5" fill="#000"/>
<circle cx="320.25" cy="180.41" r="1.5" fill="#000"/>
<circle cx="316.35" cy="180.41" r="1.5" fill="#000"/>
<circle cx="312.74" cy="178.91" r="1.5" fill="#000"/>
<circle cx="309.99" cy="176.16" r="1.5" fill="#000"/>
<circle cx="308.49" cy="172.55" r="1.5" fill="#000"/>
<circle cx="308.49" cy="168.65" r="1.5" fill="#000"/>
<circle cx="309.99" cy="165.04" r="1.5" fill="#000"/>
<circle cx="312.74" cy="162.29" r="1.5" fill="#000"/>
<circle cx="316.35" cy="160.79" r="1.5" fill="#000"/>
<circle cx="320.25" cy="160.79" r="1.5" fill="#000"/>
<circle cx="323.86" cy="162.29" r="1.5" fill="#000"/>
<circle cx="326.61" cy="165.04" r="1.5" fill="#000"/>
<circle cx="328.11" cy="168.65" r="1.5" fill="#000"/>
<circle cx="333.37" cy="172.58" r="1.5" fill="#000"/>
<circle cx="332.34" cy="176.42" r="1.5" fill="#000"/>
<circle cx="330.36" cy="179.85" r="1.5" fill="#000"/>
<circle cx="327.55" cy="182.66" r="1.5" fill="#000"/>
<circle cx="324.12" cy="184.64" r="1.5" fill="#000"/>
<circle cx="320.28" cy="185.67" r="1.5" fill="#000"/>
<circle cx="316.32" cy="185.67" r="1.5" fill="#000"/>
<circle cx="312.48" cy="184.64" r="1.5" fill="#000"/>
<circle cx="309.05" cy="182.66" r="1.5" fill="#000"/>
<circle cx="306.24" cy="179.85" r="1.5" fill="#000"/>
<circle cx="304.26" cy="176.42" r="1.5" fill="#000"/>
<circle cx="303.23" cy="172.58" r="1.5" fill="#000"/>
<circle cx="303.23" cy="168.62" r="1.5" fill="#000"/>
<circle cx="304.26" cy="164.78" r="1.5" fill="#000"/>
<circle cx="306.24" cy="161.35" r="1.5" fill="#000"/>
<circle cx="309.05" cy="158.54" r="1.5" fill="#000"/>
<circle cx="312.48" cy="156.56" r="1.5" fill="#000"/>
<circle cx="316.32" cy="155.53" r="1.5" fill="#000"/>
<circle cx="320.28" cy="155.53" r="1.5" fill="#000"/>
<circle cx="324.12" cy="156.56" r="1.5" fill="#000"/>
<circle cx="327.55" cy="158.54" r="1.5" fill="#000"/>
<circle cx="330.36" cy="161.35" r="1.5" fill="#000"/>
<circle cx="332.34" cy="164.78" r="1.5" fill="#000"/>
<circle cx="333.37" cy="168.62" r="1.5" fill="#000"/>
<circle cx="338.60" cy="172.60" r="1.5" fill="#000"/>
<circle cx="337.82" cy="176.52" r="1.5" fill="#000"/>
<circle cx="336.29" cy="180.22" r="1.5" fill="#000"/>
<circle cx="334.07" cy="183.54" r="1.5" fill="#000"/>
<circle cx="331.24" cy="186.37" r="1.5" fill="#000"/>
<circle cx="327.92" cy="188.59" r="1.5" fill="#000"/>
<circle cx="324.22" cy="190.12" r="1.5" fill="#000"/>
<circle cx="320.30" cy="190.90" r="1.5" fill="#000"/>
<circle cx="316.30" cy="190.90" r="1.5" fill="#000"/>
<circle cx="312.38" cy="190.12" r="1.5" fill="#000"/>
<circle cx="308.68" cy="188.59" r="1.5" fill="#000"/>
<circle cx="305.36" cy="186.37" r="1.5" fill="#000"/>
<circle cx="302.53" cy="183.54" r="1.5" fill="#000"/>
<circle cx="300.31" cy="180.22" r="1.5" fill="#000"/>
<circle cx="298.78" cy="176.52" r="1.5" fill="#000"/>
<circle cx="298.00" cy="172.60" r="1.5" fill="#000"/>
<circle cx="298.00" cy="168.60" r="1.5" fill="#000"/>
<circle cx="298.78" cy="164.68" r="1.5" fill="#000"/>
<circle cx="300.31" cy="160.98" r="1.5" fill="#000"/>
<circle cx="302.53" cy="157.66" r="1.5" fill="#000"/>
<circle cx="305.36" cy="154.83" r="1.5" fill="#000"/>
<circle cx="308.68" cy="152.61" r="1.5" fill="#000"/>
<circle cx="312.38" cy="151.08" r="1.5" fill="#000"/>
<circle cx="316.30" cy="150.30" r="1.5" fill="#000"/>
<circle cx="320.30" cy="150.30" r="1.5" fill="#000"/>
<circle cx="324.22" cy="151.08" r="1.5" fill="#000"/>
<circle cx="327.92" cy="152.61" r="1.5" fill="#000"/>
<circle cx="331.24" cy="154.83" r="1.5" fill="#000"/>
<circle cx="334.07" cy="157.66" r="1.5" fill="#000"/>
<circle cx="336.29" cy="160.98" r="1.5" fill="#000"/>
<circle cx="337.82" cy="164.68" r="1.5" fill="#000"/>
<circle cx="338.60" cy="168.60" r="1.5" fill="#000"/>
<path d="M298.6,190.4 C304,195 308.6,200 310.2,206.5 C311.2,214 310.6,232 309.8,247 C309.6,258 309.8,268 310.2,274.3" fill="none" stroke="#000" stroke-width="1.2" />
<path d="M338.0,190.4 C332.6,195 328,200 326.4,206.5 C325.4,214 326.0,232 326.8,247 C327.0,258 326.8,268 326.4,274.3" fill="none" stroke="#000" stroke-width="1.2" />
<path d="M312.0,207 C312.6,230 312.4,255 313.4,273.6" fill="none" stroke="#000" stroke-width="0.7" />
<path d="M324.6,207 C324.0,230 324.2,255 323.2,273.6" fill="none" stroke="#000" stroke-width="0.7" />
<line x1="318.30" y1="198.40" x2="318.30" y2="274.00" stroke="#000" stroke-width="0.6" />
<line x1="311.60" y1="206.60" x2="325.00" y2="206.60" stroke="#000" stroke-width="0.7" />
<rect x="309.50" y="274.30" width="17.40" height="12.20" fill="#fff" stroke="#000" stroke-width="1.1" />
<rect x="309.5" y="274.0" width="17.4" height="2.4" fill="#000"/>
<rect x="300.60" y="286.60" width="36.00" height="5.80" fill="#fff" stroke="#000" stroke-width="1.1" />
<rect x="310.30" y="292.50" width="16.60" height="23.50" fill="#fff" stroke="#000" stroke-width="1.3" />
<rect x="304.00" y="315.50" width="28.60" height="1.70" fill="#777" stroke="#000" stroke-width="0.6" />
<rect x="308.0" y="317.2" width="20.6" height="4.6" rx="1.6" fill="#fff" stroke="#000" stroke-width="1.35"/>
<line x1="312.40" y1="317.40" x2="312.40" y2="321.60" stroke="#000" stroke-width="0.7" />
<line x1="324.20" y1="317.40" x2="324.20" y2="321.60" stroke="#000" stroke-width="0.7" />
<rect x="310.30" y="321.80" width="16.60" height="9.10" fill="#fff" stroke="#000" stroke-width="1.2" />
<line x1="310.30" y1="331.00" x2="310.30" y2="350.50" stroke="#000" stroke-width="0.95" />
<line x1="326.90" y1="331.00" x2="326.90" y2="350.50" stroke="#000" stroke-width="0.95" />
<line x1="274.50" y1="347.00" x2="333.80" y2="347.00" stroke="#000" stroke-width="0.95" />
<polygon points="310.30,346.55 310.30,347.45 304.10,348.05 304.10,345.95" fill="#000"/>
<polygon points="326.90,346.55 326.90,347.45 333.10,348.05 333.10,345.95" fill="#000"/>
<ellipse cx="277.90" cy="342.90" rx="2.70" ry="3.20" fill="none" stroke="#000" stroke-width="0.95" transform="rotate(14 277.90 342.90)"/>
<line x1="274.30" y1="347.10" x2="281.60" y2="338.60" stroke="#000" stroke-width="0.95" />
<text x="282.00" y="346.20" font-size="9.2" font-weight="bold" fill="#000" stroke="#000" stroke-width="0.3" textLength="20.00" lengthAdjust="spacingAndGlyphs">33.5</text>
<line x1="335.50" y1="285.50" x2="359.60" y2="285.50" stroke="#000" stroke-width="0.95" />
<polygon points="336.60,285.05 336.60,285.95 342.80,286.55 342.80,284.45" fill="#000"/>
<line x1="336.60" y1="282.00" x2="336.60" y2="287.00" stroke="#000" stroke-width="0.95" />
<ellipse cx="343.50" cy="281.30" rx="2.70" ry="3.20" fill="none" stroke="#000" stroke-width="0.95" transform="rotate(14 343.50 281.30)"/>
<line x1="339.90" y1="285.50" x2="347.20" y2="277.00" stroke="#000" stroke-width="0.95" />
<text x="347.60" y="284.60" font-size="9.2" font-weight="bold" fill="#000" stroke="#000" stroke-width="0.3" textLength="12.00" lengthAdjust="spacingAndGlyphs">62</text>
<line x1="347.20" y1="170.80" x2="374.00" y2="170.80" stroke="#000" stroke-width="0.95" />
<polygon points="347.00,170.35 347.00,171.25 353.20,171.85 353.20,169.75" fill="#000"/>
<ellipse cx="355.90" cy="166.40" rx="2.70" ry="3.30" fill="none" stroke="#000" stroke-width="0.95" transform="rotate(14 355.90 166.40)"/>
<line x1="352.30" y1="170.70" x2="359.60" y2="162.00" stroke="#000" stroke-width="0.95" />
<text x="359.80" y="169.80" font-size="9.2" font-weight="bold" fill="#000" stroke="#000" stroke-width="0.3" textLength="14.00" lengthAdjust="spacingAndGlyphs">100</text>
<line x1="318.30" y1="140.60" x2="411.40" y2="140.60" stroke="#000" stroke-width="0.95" />
<line x1="331.00" y1="273.80" x2="393.40" y2="273.80" stroke="#000" stroke-width="0.95" />
<line x1="377.00" y1="292.10" x2="411.40" y2="292.10" stroke="#000" stroke-width="0.95" />
<line x1="390.50" y1="140.60" x2="390.50" y2="273.80" stroke="#000" stroke-width="0.95" />
<polygon points="390.05,140.60 390.95,140.60 391.55,146.80 389.45,146.80" fill="#000"/>
<polygon points="390.05,273.80 390.95,273.80 391.55,267.60 389.45,267.60" fill="#000"/>
<line x1="408.00" y1="140.60" x2="408.00" y2="292.10" stroke="#000" stroke-width="0.95" />
<polygon points="407.55,140.60 408.45,140.60 409.05,146.80 406.95,146.80" fill="#000"/>
<polygon points="407.55,292.10 408.45,292.10 409.05,285.90 406.95,285.90" fill="#000"/>
<text transform="translate(389.20,214.60) rotate(-90)" x="0" y="0" font-size="9.2" font-weight="bold" stroke="#000" stroke-width="0.3" textLength="14.00" lengthAdjust="spacingAndGlyphs">231</text>
<text transform="translate(406.80,225.60) rotate(-90)" x="0" y="0" font-size="9.2" font-weight="bold" stroke="#000" stroke-width="0.3" textLength="17.60" lengthAdjust="spacingAndGlyphs">263</text>
<line x1="497.00" y1="129.50" x2="636.20" y2="129.50" stroke="#000" stroke-width="0.95" />
<polygon points="497.00,129.05 497.00,129.95 503.20,130.55 503.20,128.45" fill="#000"/>
<polygon points="636.20,129.05 636.20,129.95 630.00,130.55 630.00,128.45" fill="#000"/>
<line x1="497.00" y1="126.00" x2="497.00" y2="272.60" stroke="#000" stroke-width="0.95" />
<line x1="636.20" y1="126.00" x2="636.20" y2="197.50" stroke="#000" stroke-width="0.95" />
<text x="560.50" y="128.00" font-size="8.2" font-weight="bold" fill="#000" stroke="#000" stroke-width="0.3" textLength="15.90" lengthAdjust="spacingAndGlyphs">241</text>
<rect x="497.20" y="272.80" width="6.40" height="4.60" fill="#fff" stroke="#000" stroke-width="0.9" />
<path d="M504.7,290.6 L504.7,197.9 L636.2,197.9 L636.2,207.2 L544.6,207.2" fill="none" stroke="#000" stroke-width="1.1" />
<line x1="544.60" y1="204.50" x2="636.20" y2="204.50" stroke="#000" stroke-width="0.9" />
<line x1="544.60" y1="203.60" x2="544.60" y2="207.20" stroke="#000" stroke-width="0.8" />
<line x1="516.80" y1="197.50" x2="516.80" y2="222.80" stroke="#000" stroke-width="0.9" />
<path d="M544.6,204.2 C528,204.2 518.6,210 516.9,222.8" fill="none" stroke="#000" stroke-width="0.9" />
<path d="M544.6,205.8 C532,206 524.6,211.6 522.6,222.8" fill="none" stroke="#000" stroke-width="0.7" />
<path d="M544.6,207.2 C535.6,207.6 530,212.6 528.7,222.6" fill="none" stroke="#000" stroke-width="0.9" />
<path d="M516.4,222.6 L549.0,222.6 L549.0,226.0 L521.6,226.0 C519.0,226.0 517.2,224.8 516.4,222.6 Z" fill="#6a6a6a" stroke="#000" stroke-width="0.9"/>
<line x1="504.70" y1="222.80" x2="517.00" y2="222.80" stroke="#000" stroke-width="1.0" />
<line x1="528.70" y1="222.80" x2="528.70" y2="290.60" stroke="#000" stroke-width="1.0" />
<line x1="504.70" y1="239.30" x2="528.70" y2="239.30" stroke="#000" stroke-width="1.4" />
<path d="M504.9,233.6 L517.6,238.9" fill="none" stroke="#000" stroke-width="0.9" />
<path d="M505.6,238.8 L506.4,235.0" fill="none" stroke="#000" stroke-width="0.6" />
<path d="M538.2,140.3 L544.6,142.6 L526.6,190.0 L524.7,197.4 L517.0,197.4 C518.0,193 519.0,190 520.2,186.6 C523.0,176 528.0,158 538.2,140.3 Z" fill="#fff" stroke="#000" stroke-width="1.0" />
<path d="M538.6,143.2 C532.0,156 526.2,172 522.4,187.6" fill="none" stroke="#000" stroke-width="0.7" />
<path d="M520.2,186.6 L526.6,190.0" fill="none" stroke="#000" stroke-width="0.9" />
<path d="M543.3,147.0 L527.5,190.0" fill="none" stroke="#000" stroke-width="2.4" stroke-dasharray="1.2,0.4"/>
<path d="M519.6,197.2 L522.6,187.8 M522.0,197.2 L524.8,188.9" fill="none" stroke="#000" stroke-width="0.6" />
<line x1="548.90" y1="226.20" x2="548.90" y2="264.60" stroke="#000" stroke-width="0.95" />
<line x1="504.70" y1="261.20" x2="565.20" y2="261.20" stroke="#000" stroke-width="0.95" />
<polygon points="504.70,260.75 504.70,261.65 510.90,262.25 510.90,260.15" fill="#000"/>
<polygon points="548.90,260.75 548.90,261.65 542.70,262.25 542.70,260.15" fill="#000"/>
<text x="553.80" y="260.50" font-size="8.6" font-weight="bold" fill="#000" stroke="#000" stroke-width="0.3" textLength="11.20" lengthAdjust="spacingAndGlyphs">76</text>
<line x1="517.00" y1="280.20" x2="517.00" y2="290.40" stroke="#000" stroke-width="0.95" />
<line x1="517.00" y1="283.00" x2="626.40" y2="283.00" stroke="#000" stroke-width="0.95" />
<polygon points="517.00,282.55 517.00,283.45 523.20,284.05 523.20,281.95" fill="#000"/>
<polygon points="626.40,282.55 626.40,283.45 620.20,284.05 620.20,281.95" fill="#000"/>
<text x="560.60" y="282.00" font-size="8.2" font-weight="bold" fill="#000" stroke="#000" stroke-width="0.3" textLength="14.60" lengthAdjust="spacingAndGlyphs">190</text>
<line x1="626.40" y1="207.20" x2="626.40" y2="285.20" stroke="#000" stroke-width="0.95" />
<line x1="626.40" y1="207.20" x2="631.70" y2="237.20" stroke="#000" stroke-width="0.95" />
<line x1="623.40" y1="234.20" x2="626.40" y2="234.20" stroke="#000" stroke-width="1.2" />
<line x1="631.60" y1="234.00" x2="637.00" y2="233.20" stroke="#000" stroke-width="1.2" />
<text x="610.20" y="237.00" font-size="8.6" font-weight="bold" fill="#000" stroke="#000" stroke-width="0.3" textLength="8.20" lengthAdjust="spacingAndGlyphs">10</text>
<circle cx="620.4" cy="231.0" r="1.1" fill="none" stroke="#000" stroke-width="0.6"/>
<line x1="636.20" y1="207.20" x2="682.60" y2="207.20" stroke="#000" stroke-width="0.95" />
<line x1="568.80" y1="292.30" x2="682.60" y2="292.30" stroke="#000" stroke-width="0.95" />
<line x1="679.70" y1="207.20" x2="679.70" y2="292.30" stroke="#000" stroke-width="0.95" />
<polygon points="679.25,207.20 680.15,207.20 680.75,213.40 678.65,213.40" fill="#000"/>
<polygon points="679.25,292.30 680.15,292.30 680.75,286.10 678.65,286.10" fill="#000"/>
<text transform="translate(678.40,257.20) rotate(-90)" x="0" y="0" font-size="8.6" font-weight="bold" stroke="#000" stroke-width="0.3" textLength="15.00" lengthAdjust="spacingAndGlyphs">148</text>
<line x1="680.60" y1="292.30" x2="680.60" y2="458.20" stroke="#000" stroke-width="0.95" />
<polygon points="680.15,292.30 681.05,292.30 681.65,298.50 679.55,298.50" fill="#000"/>
<polygon points="680.15,458.20 681.05,458.20 681.65,452.00 679.55,452.00" fill="#000"/>
<line x1="527.40" y1="458.20" x2="683.40" y2="458.20" stroke="#000" stroke-width="0.95" />
<text transform="translate(679.00,385.20) rotate(-90)" x="0" y="0" font-size="8.6" font-weight="bold" stroke="#000" stroke-width="0.3" textLength="18.40" lengthAdjust="spacingAndGlyphs">438</text>
<line x1="596.20" y1="292.30" x2="596.20" y2="362.60" stroke="#000" stroke-width="0.95" />
<polygon points="595.75,292.30 596.65,292.30 597.25,296.90 595.15,296.90" fill="#000"/>
<polygon points="595.75,315.60 596.65,315.60 597.25,311.00 595.15,311.00" fill="#000"/>
<line x1="568.80" y1="315.60" x2="599.00" y2="315.60" stroke="#000" stroke-width="0.95" />
<text transform="translate(595.00,362.60) rotate(-90)" x="0" y="0" font-size="8.6" font-weight="bold" stroke="#000" stroke-width="0.3" textLength="40.60" lengthAdjust="spacingAndGlyphs">40 MAX</text>
<line x1="447.40" y1="292.30" x2="465.80" y2="292.30" stroke="#000" stroke-width="0.95" />
<line x1="450.40" y1="292.30" x2="450.40" y2="475.60" stroke="#000" stroke-width="0.95" />
<polygon points="449.95,292.30 450.85,292.30 451.45,298.50 449.35,298.50" fill="#000"/>
<polygon points="449.95,475.60 450.85,475.60 451.45,469.40 449.35,469.40" fill="#000"/>
<line x1="447.00" y1="475.60" x2="504.40" y2="475.60" stroke="#000" stroke-width="0.95" />
<text transform="translate(449.00,392.60) rotate(-90)" x="0" y="0" font-size="8.6" font-weight="bold" stroke="#000" stroke-width="0.3" textLength="17.00" lengthAdjust="spacingAndGlyphs">467</text>
<rect x="498.60" y="286.80" width="4.20" height="5.40" fill="#fff" stroke="#000" stroke-width="0.8" />
<rect x="530.60" y="286.80" width="4.20" height="5.40" fill="#fff" stroke="#000" stroke-width="0.8" />
<rect x="502.00" y="290.60" width="29.20" height="2.20" fill="#666" stroke="#000" stroke-width="0.6" />
<rect x="506.4" y="292.8" width="21.6" height="23" fill="#fff"/>
<clipPath id="c11"><polygon points="514.40,292.80 521.70,292.80 521.70,318.00 514.40,318.00"/></clipPath>
<g clip-path="url(#c11)">
<rect x="514.40" y="285.60" width="7.30" height="39.60" fill="#fff"/>
<path d="M514.40,285.60L521.70,292.80M521.70,285.60L514.40,292.80M514.40,292.80L521.70,300.00M521.70,292.80L514.40,300.00M514.40,300.00L521.70,307.20M521.70,300.00L514.40,307.20M514.40,307.20L521.70,314.40M521.70,307.20L514.40,314.40M514.40,314.40L521.70,321.60M521.70,314.40L514.40,321.60M514.40,321.60L521.70,328.80M521.70,321.60L514.40,328.80M514.40,328.80L521.70,336.00M521.70,328.80L514.40,336.00" fill="none" stroke="#000" stroke-width="1.5" />
</g>
<line x1="514.40" y1="292.80" x2="514.40" y2="318.00" stroke="#000" stroke-width="1.5" />
<line x1="521.70" y1="292.80" x2="521.70" y2="318.00" stroke="#000" stroke-width="1.5" />
<line x1="514.40" y1="292.80" x2="521.70" y2="292.80" stroke="#000" stroke-width="1.2000000000000002" />
<line x1="514.40" y1="318.00" x2="521.70" y2="318.00" stroke="#000" stroke-width="1.2000000000000002" />
<rect x="507.40" y="292.80" width="7.00" height="23.20" fill="#fff" stroke="#000" stroke-width="1.0" />
<line x1="508.40" y1="296.50" x2="513.60" y2="296.50" stroke="#444" stroke-width="1.0" />
<line x1="508.40" y1="300.50" x2="513.60" y2="300.50" stroke="#444" stroke-width="1.0" />
<line x1="508.40" y1="304.50" x2="513.60" y2="304.50" stroke="#444" stroke-width="1.0" />
<line x1="508.40" y1="308.50" x2="513.60" y2="308.50" stroke="#444" stroke-width="1.0" />
<line x1="508.40" y1="312.50" x2="513.60" y2="312.50" stroke="#444" stroke-width="1.0" />
<line x1="511.00" y1="293.00" x2="511.00" y2="316.00" stroke="#000" stroke-width="0.6" />
<rect x="522.60" y="292.80" width="4.60" height="23.20" fill="#fff" stroke="#000" stroke-width="0.8" />
<rect x="502.80" y="315.40" width="29.20" height="2.50" fill="#666" stroke="#000" stroke-width="0.6" />
<clipPath id="c12"><polygon points="507.80,318.00 521.40,318.00 521.40,407.40 507.80,407.40"/></clipPath>
<g clip-path="url(#c12)">
<rect x="507.80" y="310.80" width="13.60" height="103.80" fill="#fff"/>
<path d="M507.80,310.80L514.60,318.00M514.60,310.80L507.80,318.00M507.80,318.00L514.60,325.20M514.60,318.00L507.80,325.20M507.80,325.20L514.60,332.40M514.60,325.20L507.80,332.40M507.80,332.40L514.60,339.60M514.60,332.40L507.80,339.60M507.80,339.60L514.60,346.80M514.60,339.60L507.80,346.80M507.80,346.80L514.60,354.00M514.60,346.80L507.80,354.00M507.80,354.00L514.60,361.20M514.60,354.00L507.80,361.20M507.80,361.20L514.60,368.40M514.60,361.20L507.80,368.40M507.80,368.40L514.60,375.60M514.60,368.40L507.80,375.60M507.80,375.60L514.60,382.80M514.60,375.60L507.80,382.80M507.80,382.80L514.60,390.00M514.60,382.80L507.80,390.00M507.80,390.00L514.60,397.20M514.60,390.00L507.80,397.20M507.80,397.20L514.60,404.40M514.60,397.20L507.80,404.40M507.80,404.40L514.60,411.60M514.60,404.40L507.80,411.60M507.80,411.60L514.60,418.80M514.60,411.60L507.80,418.80M507.80,418.80L514.60,426.00M514.60,418.80L507.80,426.00M514.60,310.80L521.40,318.00M521.40,310.80L514.60,318.00M514.60,318.00L521.40,325.20M521.40,318.00L514.60,325.20M514.60,325.20L521.40,332.40M521.40,325.20L514.60,332.40M514.60,332.40L521.40,339.60M521.40,332.40L514.60,339.60M514.60,339.60L521.40,346.80M521.40,339.60L514.60,346.80M514.60,346.80L521.40,354.00M521.40,346.80L514.60,354.00M514.60,354.00L521.40,361.20M521.40,354.00L514.60,361.20M514.60,361.20L521.40,368.40M521.40,361.20L514.60,368.40M514.60,368.40L521.40,375.60M521.40,368.40L514.60,375.60M514.60,375.60L521.40,382.80M521.40,375.60L514.60,382.80M514.60,382.80L521.40,390.00M521.40,382.80L514.60,390.00M514.60,390.00L521.40,397.20M521.40,390.00L514.60,397.20M514.60,397.20L521.40,404.40M521.40,397.20L514.60,404.40M514.60,404.40L521.40,411.60M521.40,404.40L514.60,411.60M514.60,411.60L521.40,418.80M521.40,411.60L514.60,418.80M514.60,418.80L521.40,426.00M521.40,418.80L514.60,426.00" fill="none" stroke="#000" stroke-width="1.7" />
</g>
<line x1="507.80" y1="318.00" x2="507.80" y2="407.40" stroke="#000" stroke-width="1.7" />
<line x1="521.40" y1="318.00" x2="521.40" y2="407.40" stroke="#000" stroke-width="1.7" />
<line x1="507.80" y1="318.00" x2="521.40" y2="318.00" stroke="#000" stroke-width="1.36" />
<line x1="507.80" y1="407.40" x2="521.40" y2="407.40" stroke="#000" stroke-width="1.36" />
<line x1="514.60" y1="318.00" x2="514.60" y2="407.40" stroke="#000" stroke-width="1.0" />
<clipPath id="c13"><polygon points="507.80,414.80 521.40,414.80 521.40,452.00 507.80,452.00"/></clipPath>
<g clip-path="url(#c13)">
<rect x="507.80" y="407.60" width="13.60" height="51.60" fill="#fff"/>
<path d="M507.80,407.60L514.60,414.80M514.60,407.60L507.80,414.80M507.80,414.80L514.60,422.00M514.60,414.80L507.80,422.00M507.80,422.00L514.60,429.20M514.60,422.00L507.80,429.20M507.80,429.20L514.60,436.40M514.60,429.20L507.80,436.40M507.80,436.40L514.60,443.60M514.60,436.40L507.80,443.60M507.80,443.60L514.60,450.80M514.60,443.60L507.80,450.80M507.80,450.80L514.60,458.00M514.60,450.80L507.80,458.00M507.80,458.00L514.60,465.20M514.60,458.00L507.80,465.20M507.80,465.20L514.60,472.40M514.60,465.20L507.80,472.40M514.60,407.60L521.40,414.80M521.40,407.60L514.60,414.80M514.60,414.80L521.40,422.00M521.40,414.80L514.60,422.00M514.60,422.00L521.40,429.20M521.40,422.00L514.60,429.20M514.60,429.20L521.40,436.40M521.40,429.20L514.60,436.40M514.60,436.40L521.40,443.60M521.40,436.40L514.60,443.60M514.60,443.60L521.40,450.80M521.40,443.60L514.60,450.80M514.60,450.80L521.40,458.00M521.40,450.80L514.60,458.00M514.60,458.00L521.40,465.20M521.40,458.00L514.60,465.20M514.60,465.20L521.40,472.40M521.40,465.20L514.60,472.40" fill="none" stroke="#000" stroke-width="1.7" />
</g>
<line x1="507.80" y1="414.80" x2="507.80" y2="452.00" stroke="#000" stroke-width="1.7" />
<line x1="521.40" y1="414.80" x2="521.40" y2="452.00" stroke="#000" stroke-width="1.7" />
<line x1="507.80" y1="414.80" x2="521.40" y2="414.80" stroke="#000" stroke-width="1.36" />
<line x1="507.80" y1="452.00" x2="521.40" y2="452.00" stroke="#000" stroke-width="1.36" />
<line x1="514.60" y1="414.80" x2="514.60" y2="452.00" stroke="#000" stroke-width="1.0" />
<rect x="522.60" y="318.00" width="4.30" height="20.00" fill="#fff" stroke="#000" stroke-width="0.7" />
<rect x="522.40" y="337.80" width="5.20" height="8.00" fill="#ddd" stroke="#000" stroke-width="0.8" />
<rect x="521.80" y="352.80" width="3.40" height="5.60" fill="#ddd" stroke="#000" stroke-width="0.8" />
<rect x="514.20" y="444.40" width="7.20" height="7.60" fill="#ccc" stroke="#000" stroke-width="0.8" />
<line x1="514.20" y1="446.80" x2="521.40" y2="446.80" stroke="#000" stroke-width="1.1" />
<rect x="513.0" y="451.6" width="10.4" height="7.0" rx="2" fill="#fff" stroke="#000" stroke-width="1.35"/>
<line x1="516.20" y1="451.80" x2="516.20" y2="458.40" stroke="#000" stroke-width="0.7" />
<line x1="520.40" y1="451.80" x2="520.40" y2="458.40" stroke="#000" stroke-width="0.7" />
<clipPath id="c14"><polygon points="507.60,452.00 513.60,452.00 513.60,468.00 507.60,468.00"/></clipPath>
<g clip-path="url(#c14)">
<rect x="507.60" y="444.80" width="6.00" height="30.40" fill="#fff"/>
<path d="M507.60,444.80L513.60,452.00M513.60,444.80L507.60,452.00M507.60,452.00L513.60,459.20M513.60,452.00L507.60,459.20M507.60,459.20L513.60,466.40M513.60,459.20L507.60,466.40M507.60,466.40L513.60,473.60M513.60,466.40L507.60,473.60M507.60,473.60L513.60,480.80M513.60,473.60L507.60,480.80M507.60,480.80L513.60,488.00M513.60,480.80L507.60,488.00" fill="none" stroke="#000" stroke-width="1.1" />
</g>
<line x1="507.60" y1="452.00" x2="507.60" y2="468.00" stroke="#000" stroke-width="1.2" />
<line x1="513.60" y1="452.00" x2="513.60" y2="468.00" stroke="#000" stroke-width="1.2" />
<line x1="507.60" y1="452.00" x2="513.60" y2="452.00" stroke="#000" stroke-width="0.96" />
<line x1="507.60" y1="468.00" x2="513.60" y2="468.00" stroke="#000" stroke-width="0.96" />
<rect x="507.80" y="458.60" width="5.40" height="9.40" fill="#bbb" stroke="#000" stroke-width="0.8" />
<rect x="504.4" y="468.0" width="12.6" height="7.6" rx="2" fill="#fff" stroke="#000" stroke-width="1.35"/>
<line x1="510.60" y1="468.20" x2="510.60" y2="475.40" stroke="#000" stroke-width="0.7" />
<path d="M517.0,459 L521.4,459 L520.4,472 L517.0,476.6 Z" fill="#fff" stroke="#000" stroke-width="0.8" />
<path d="M517.2,462 L521,466 M517.2,467 L520.6,471 M521,461 L517.2,466 M520.6,466.4 L517.2,471" fill="none" stroke="#000" stroke-width="0.7" />
<clipPath id="c15"><polygon points="513.20,482.40 520.60,480.40 520.60,497.20 513.20,497.20"/></clipPath>
<g clip-path="url(#c15)">
<rect x="513.20" y="473.30" width="7.40" height="31.00" fill="#fff"/>
<path d="M513.20,473.30L520.60,480.40M520.60,473.30L513.20,480.40M513.20,480.40L520.60,487.50M520.60,480.40L513.20,487.50M513.20,487.50L520.60,494.60M520.60,487.50L513.20,494.60M513.20,494.60L520.60,501.70M520.60,494.60L513.20,501.70M513.20,501.70L520.60,508.80M520.60,501.70L513.20,508.80M513.20,508.80L520.60,515.90M520.60,508.80L513.20,515.90" fill="none" stroke="#000" stroke-width="1.1" />
</g>
<line x1="513.20" y1="482.40" x2="513.20" y2="497.20" stroke="#000" stroke-width="1.2" />
<line x1="520.60" y1="480.40" x2="520.60" y2="497.20" stroke="#000" stroke-width="1.2" />
<line x1="513.20" y1="482.40" x2="520.60" y2="480.40" stroke="#000" stroke-width="0.96" />
<line x1="513.20" y1="497.20" x2="520.60" y2="497.20" stroke="#000" stroke-width="0.96" />
<rect x="513.60" y="497.20" width="6.80" height="8.80" fill="#bbb" stroke="#000" stroke-width="0.8" />
<line x1="513.60" y1="500.00" x2="520.40" y2="500.00" stroke="#000" stroke-width="1.0" />
<rect x="512.20" y="506.00" width="9.40" height="8.40" fill="#222" stroke="#000" stroke-width="0.8" />
<line x1="512.20" y1="510.00" x2="521.60" y2="510.00" stroke="#888" stroke-width="0.6" />
<rect x="513.20" y="514.40" width="7.60" height="9.80" fill="#fff" stroke="#000" stroke-width="1.0" />
<path d="M513.20,525.85L520.80,524.85M513.20,528.15L520.80,527.15M513.20,530.45L520.80,529.45M513.20,532.75L520.80,531.75M513.20,535.05L520.80,534.05M513.20,537.35L520.80,536.35M513.20,539.65L520.80,538.65M513.20,541.95L520.80,540.95M513.20,544.25L520.80,543.25M513.20,546.55L520.80,545.55M513.20,548.85L520.80,547.85M513.20,551.15L520.80,550.15M513.20,553.45L520.80,552.45M513.20,555.75L520.80,554.75M513.20,558.05L520.80,557.05M513.20,560.35L520.80,559.35M513.20,562.65L520.80,561.65M513.20,564.95L520.80,563.95M513.20,567.25L520.80,566.25M513.20,569.55L520.80,568.55M513.20,571.85L520.80,570.85M513.20,574.15L520.80,573.15M513.20,576.45L520.80,575.45M513.20,578.75L520.80,577.75M513.20,581.05L520.80,580.05" fill="none" stroke="#000" stroke-width="1.5" />
<line x1="513.20" y1="524.20" x2="513.20" y2="581.60" stroke="#000" stroke-width="0.9" />
<line x1="520.80" y1="524.20" x2="520.80" y2="581.60" stroke="#000" stroke-width="0.9" />
<line x1="513.20" y1="581.60" x2="520.80" y2="581.60" stroke="#000" stroke-width="0.9" />
<text x="254" y="597.6" font-size="38.5" font-weight="normal" fill="#fff" stroke="#d4d4d4" stroke-width="0.9" textLength="192" lengthAdjust="spacingAndGlyphs">3dplitka.ru</text>
<text x="530" y="661.6" font-size="22.5" font-weight="normal" fill="#e3e3ea" letter-spacing="3" textLength="140" lengthAdjust="spacing">DUSHLUX</text>
<text x="544.8" y="673.2" font-size="6" font-weight="bold" fill="#ebebf0" textLength="111" lengthAdjust="spacing">ЭЛИТНАЯ САНТЕХНИКА</text>
</svg></body></html>
